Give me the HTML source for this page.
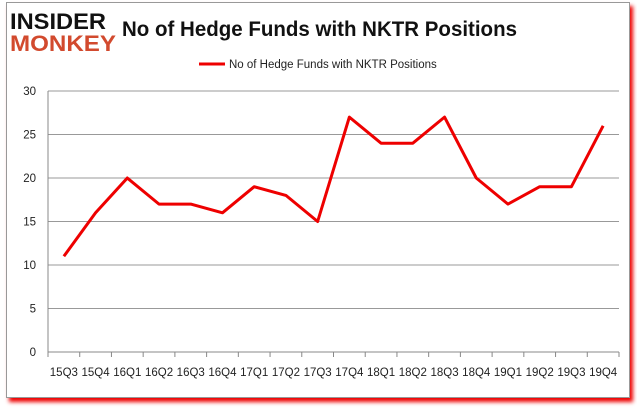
<!DOCTYPE html>
<html><head><meta charset="utf-8"><style>
body{margin:0;width:637px;height:408px;background:#fff;overflow:hidden;font-family:"Liberation Sans",sans-serif}
#frame{position:absolute;left:6px;top:2px;width:622px;height:394px;border:1px solid #999;background:#fff;box-shadow:3px 4px 4px #e00}
</style></head><body>
<div id="frame"></div>
<svg width="637" height="408" style="position:absolute;left:0;top:0">
<g font-family="Liberation Sans" font-weight="bold">
<text x="10" y="29" font-size="22" fill="#111" textLength="96" lengthAdjust="spacingAndGlyphs">INSIDER</text>
<text x="10" y="51" font-size="22" fill="#d24a2e" textLength="106" lengthAdjust="spacingAndGlyphs">MONKEY</text>
</g>
<text x="122" y="36" font-size="21" font-weight="bold" fill="#111" textLength="395" lengthAdjust="spacingAndGlyphs">No of Hedge Funds with NKTR Positions</text>
<g>
<line x1="199" y1="64" x2="225" y2="64" stroke="#e00" stroke-width="3"/>
<text x="229" y="68" font-size="11.5" fill="#222">No of Hedge Funds with NKTR Positions</text>
</g>
<g id="grid"></g><g id="axes"></g><g id="series"></g>
</svg>
<script>
const categories=["15Q3","15Q4","16Q1","16Q2","16Q3","16Q4","17Q1","17Q2","17Q3","17Q4","18Q1","18Q2","18Q3","18Q4","19Q1","19Q2","19Q3","19Q4"];
const values=[11,16,20,17,17,16,19,18,15,27,24,24,27,20,17,19,19,26];
const yTicks=[0,5,10,15,20,25,30];
const NS="http://www.w3.org/2000/svg";
const L=48,R=619,T=91,B=352,yMax=30;
const step=(R-L)/categories.length;
const xs=i=>L+step*(i+0.5);
const ys=v=>B-(v/yMax)*(B-T);
function mk(tag,attrs,parent){const e=document.createElementNS(NS,tag);for(const k in attrs)e.setAttribute(k,attrs[k]);document.getElementById(parent).appendChild(e);return e;}
yTicks.forEach(t=>{
 const g=mk('line',{x1:L,x2:R,y1:ys(t),y2:ys(t),stroke:t===0?'#888':'#999','stroke-width':1},'grid');
 
 
 const tx=mk('text',{x:L-12,y:ys(t)+4,'text-anchor':'end','font-size':11.5,fill:'#222'},'axes');
 tx.textContent=t;
 
 
});
const ya=mk('line',{x1:L,x2:L,y1:T,y2:B,stroke:'#888'},'axes');


for(let i=0;i<=categories.length;i++){
 const tk=mk('line',{x1:L+step*i,x2:L+step*i,y1:B,y2:B+5,stroke:'#888'},'axes');
 
 
}
categories.forEach((c,i)=>{
 const tx=mk('text',{x:xs(i),y:B+24,'text-anchor':'middle','font-size':11.5,fill:'#222'},'axes');
 tx.textContent=c;
 
 
});
const pl=mk('polyline',{points:values.map((v,i)=>xs(i)+','+ys(v)).join(' '),fill:'none',stroke:'#e00','stroke-width':3,'stroke-linejoin':'round'},'series');


</script>
</body></html>
